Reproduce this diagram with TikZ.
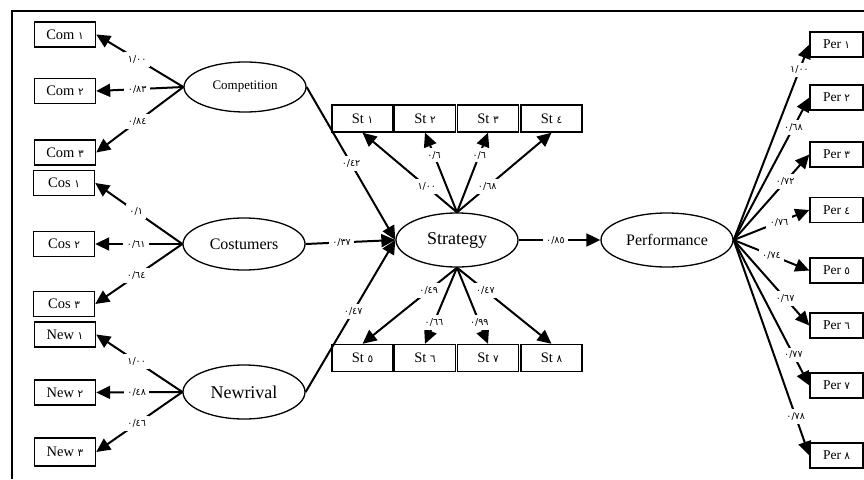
\documentclass[tikz,border=0pt]{standalone}
\usepackage{fontspec}
\setmainfont{Liberation Serif}
\newfontfamily\numfont{DejaVu Sans}
\usepackage{tikz}
\usetikzlibrary{shapes.geometric, arrows.meta, positioning}
\newcommand{\adig}[1]{{\numfont\fontsize{10.5}{12}\selectfont #1}}
\tikzstyle{latent} = [ellipse, draw, line width=1.3pt, inner sep=0pt, minimum width=122pt, minimum height=50pt, font=\fontsize{13}{15}\selectfont]
\tikzstyle{item} = [rectangle, draw, line width=1.4pt, inner sep=0pt, minimum width=61pt, minimum height=25pt, font=\fontsize{14.5}{16}\selectfont]
\tikzstyle{load} = [line width=2pt, -{Triangle[length=14pt, width=13pt]}]
\tikzstyle{coef} = [fill=white, inner sep=3.5pt, font=\numfont\fontsize{9.5}{10}\selectfont]

\begin{document}
\begin{tikzpicture}[x=1pt, y=-1pt]
    \useasboundingbox (0,0) rectangle (864,479);
    % Frame
    \draw[line width=1.5pt] (12,479) -- (12,11) -- (864,11);

    % Latent variables
    \node[latent] (comp) at (245,87) {Competition};
    \node[latent, minimum height=52pt, font=\fontsize{16}{18}\selectfont] (cost) at (244,244) {Costumers};
    \node[latent, minimum height=54pt, font=\fontsize{18}{20}\selectfont] (newr) at (244,392) {Newrival};
    \node[latent, minimum height=54pt, font=\fontsize{18}{20}\selectfont] (strat) at (457,240) {Strategy};
    \node[latent, minimum width=132pt, minimum height=54pt, font=\fontsize{16}{18}\selectfont] (perf) at (667,240) {Performance};

    % Competition items
    \node[item] (com1) at (65,34.5) {Com \adig{١}};
    \node[item] (com2) at (65,91) {Com \adig{٢}};
    \node[item] (com3) at (65,152.5) {Com \adig{٣}};
    \draw[load] (comp.west) -- node[coef, pos=0.53] {١/٠٠} (com1.east);
    \draw[load] (comp.west) -- node[coef, pos=0.53] {٠/٨٣} (com2.east);
    \draw[load] (comp.west) -- node[coef, pos=0.53] {٠/٨٤} (com3.east);

    % Costumers items
    \node[item] (cos1) at (64,183) {Cos \adig{١}};
    \node[item] (cos2) at (64,244) {Cos \adig{٢}};
    \node[item] (cos3) at (64,304) {Cos \adig{٣}};
    \draw[load] (cost.west) -- node[coef, pos=0.53] {٠/١} (cos1.east);
    \draw[load] (cost.west) -- node[coef, pos=0.53] {٠/٦١} (cos2.east);
    \draw[load] (cost.west) -- node[coef, pos=0.53] {٠/٦٤} (cos3.east);

    % Newrival items
    \node[item] (new1) at (65,334.5) {New \adig{١}};
    \node[item] (new2) at (65,392.5) {New \adig{٢}};
    \node[item, minimum height=28pt] (new3) at (65,452) {New \adig{٣}};
    \draw[load] (newr.west) -- node[coef, pos=0.53] {١/٠٠} (new1.east);
    \draw[load] (newr.west) -- node[coef, pos=0.53] {٠/٤٨} (new2.east);
    \draw[load] (newr.west) -- node[coef, pos=0.53] {٠/٤٦} (new3.east);

    % Paths into strategy
    \draw[load] (comp.east) -- node[coef, pos=0.5] {٠/٤٢} (strat.west);
    \draw[load] (cost.east) -- node[coef, pos=0.4] {٠/٣٧} (strat.west);
    \draw[load] (newr.east) -- node[coef, pos=0.53] {٠/٤٧} (strat.west);
    \draw[load] (strat.east) -- node[coef, pos=0.45] {٠/٨٥} (perf.west);

    % Strategy items
    \node[item, minimum height=27pt] (st1) at (362.5,118.5) {St \adig{١}};
    \node[item, minimum height=27pt] (st2) at (425,118.5) {St \adig{٢}};
    \node[item, minimum height=27pt] (st3) at (488,118.5) {St \adig{٣}};
    \node[item, minimum height=27pt] (st4) at (551.5,118.5) {St \adig{٤}};
    \node[item, minimum height=27pt] (st5) at (362.5,358) {St \adig{٥}};
    \node[item, minimum height=27pt] (st6) at (425,358) {St \adig{٦}};
    \node[item, minimum height=27pt] (st7) at (488,358) {St \adig{٧}};
    \node[item, minimum height=27pt] (st8) at (551.5,358) {St \adig{٨}};
    \draw[load] (strat.north) -- node[coef, pos=0.32] {١/٠٠} (st1.south);
    \draw[load] (strat.north) -- node[coef, pos=0.72] {٠/٦} (st2.south);
    \draw[load] (strat.north) -- node[coef, pos=0.72] {٠/٦} (st3.south);
    \draw[load] (strat.north) -- node[coef, pos=0.32] {٠/٦٨} (st4.south);
    \draw[load] (strat.south) -- node[coef, pos=0.3] {٠/٤٩} (st5.north);
    \draw[load] (strat.south) -- node[coef, pos=0.72] {٠/٦٦} (st6.north);
    \draw[load] (strat.south) -- node[coef, pos=0.72] {٠/٩٩} (st7.north);
    \draw[load] (strat.south) -- node[coef, pos=0.3] {٠/٤٧} (st8.north);

    % Performance items
    \node[item, minimum width=53pt, font=\fontsize{13.5}{15}\selectfont] (per1) at (836.5,44.5) {Per \adig{١}};
    \node[item, minimum width=53pt, font=\fontsize{13.5}{15}\selectfont] (per2) at (836.5,97.5) {Per \adig{٢}};
    \node[item, minimum width=53pt, font=\fontsize{13.5}{15}\selectfont] (per3) at (836.5,154.5) {Per \adig{٣}};
    \node[item, minimum width=53pt, font=\fontsize{13.5}{15}\selectfont] (per4) at (836.5,210) {Per \adig{٤}};
    \node[item, minimum width=53pt, font=\fontsize{13.5}{15}\selectfont] (per5) at (836.5,270.5) {Per \adig{٥}};
    \node[item, minimum width=53pt, font=\fontsize{13.5}{15}\selectfont] (per6) at (836.5,325.5) {Per \adig{٦}};
    \node[item, minimum width=53pt, font=\fontsize{13.5}{15}\selectfont] (per7) at (836.5,385.5) {Per \adig{٧}};
    \node[item, minimum width=53pt, font=\fontsize{13.5}{15}\selectfont] (per8) at (836.5,455.5) {Per \adig{٨}};
    \draw[load] (perf.east) -- node[coef, pos=0.87] {١/٠٠} (per1.west);
    \draw[load] (perf.east) -- node[coef, pos=0.79] {٠/٦٨} (per2.west);
    \draw[load] (perf.east) -- node[coef, pos=0.68] {٠/٧٢} (per3.west);
    \draw[load] (perf.east) -- node[coef, pos=0.6] {٠/٧٦} (per4.west);
    \draw[load] (perf.east) -- node[coef, pos=0.5] {٠/٧٤} (per5.west);
    \draw[load] (perf.east) -- node[coef, pos=0.68] {٠/٦٧} (per6.west);
    \draw[load] (perf.east) -- node[coef, pos=0.79] {٠/٧٧} (per7.west);
    \draw[load] (perf.east) -- node[coef, pos=0.82] {٠/٧٨} (per8.west);
\end{tikzpicture}
\end{document}
